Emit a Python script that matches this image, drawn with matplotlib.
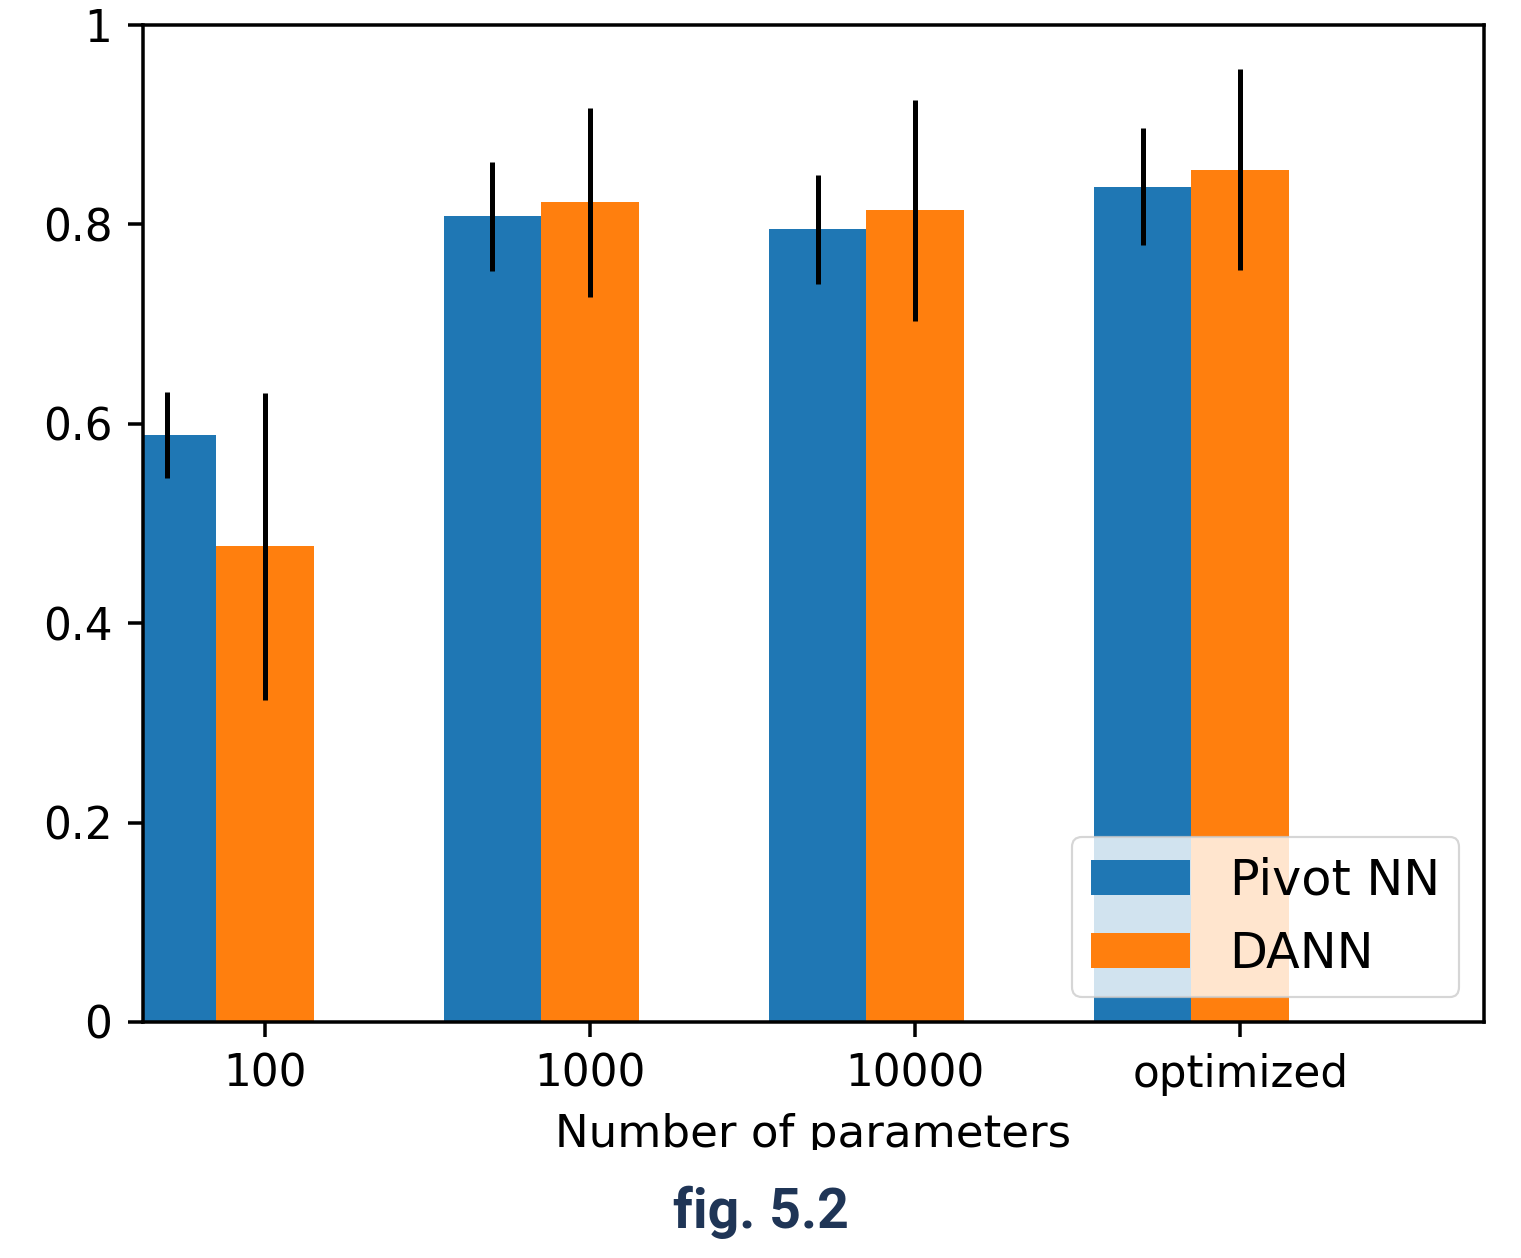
import matplotlib
matplotlib.use("Agg")
import matplotlib.pyplot as plt
import numpy as np
from matplotlib.ticker import FuncFormatter
from matplotlib.transforms import Bbox, TransformedBbox

categories = ["100", "1000", "10000", "optimized"]
pivot_mean = [0.589, 0.808, 0.795, 0.838]
pivot_err = [0.043, 0.055, 0.055, 0.059]
dann_mean = [0.477, 0.822, 0.814, 0.855]
dann_err = [0.154, 0.095, 0.111, 0.101]

# scaled-up default matplotlib look
s = 3.15
plt.rcParams.update({
    "font.size": 10 * s,
    "axes.linewidth": 0.8 * s,
    "xtick.major.size": 3.5 * s,
    "ytick.major.size": 3.5 * s,
    "xtick.major.width": 0.8 * s,
    "ytick.major.width": 0.8 * s,
    "xtick.major.pad": 3.5 * s,
    "ytick.major.pad": 3.5 * s,
    "patch.linewidth": 0.5 * s,
})

fig = plt.figure(figsize=(15.21, 12.58), dpi=100)
ax = fig.add_axes([0.094, 0.1876, 0.8817, 0.7925])

x = np.arange(len(categories))
w = 0.3
ax.bar(x - w, pivot_mean, w, yerr=pivot_err, color="#1f77b4", label="Pivot NN",
       error_kw=dict(elinewidth=3.6, ecolor="black"))
ax.bar(x, dann_mean, w, yerr=dann_err, color="#ff7f0e", label="DANN",
       error_kw=dict(elinewidth=3.6, ecolor="black"))

ax.set_xlim(-0.375, 3.75)
ax.set_ylim(0, 1)
ax.set_xticks(x)
ax.set_xticklabels(categories)
ax.yaxis.set_major_formatter(FuncFormatter(lambda v, p: "%g" % v))
ax.set_xlabel("Number of parameters", labelpad=4 * s, fontsize=32.5)
ax.legend(loc="lower right", fontsize=35.5)

# the screenshot cuts the axis label off at the bottom
lab = ax.xaxis.label
lab.set_clip_box(TransformedBbox(Bbox([[0, 1 - 1150 / 1258], [1, 1]]), fig.transFigure))
lab.set_clip_on(True)

fig.text(0.5, 1 - 1212 / 1258, "fig. 5.2", ha="center", va="center",
         fontsize=40, fontweight="bold", color="#1f3556", family="Roboto")

plt.savefig("out.png", dpi=100)
